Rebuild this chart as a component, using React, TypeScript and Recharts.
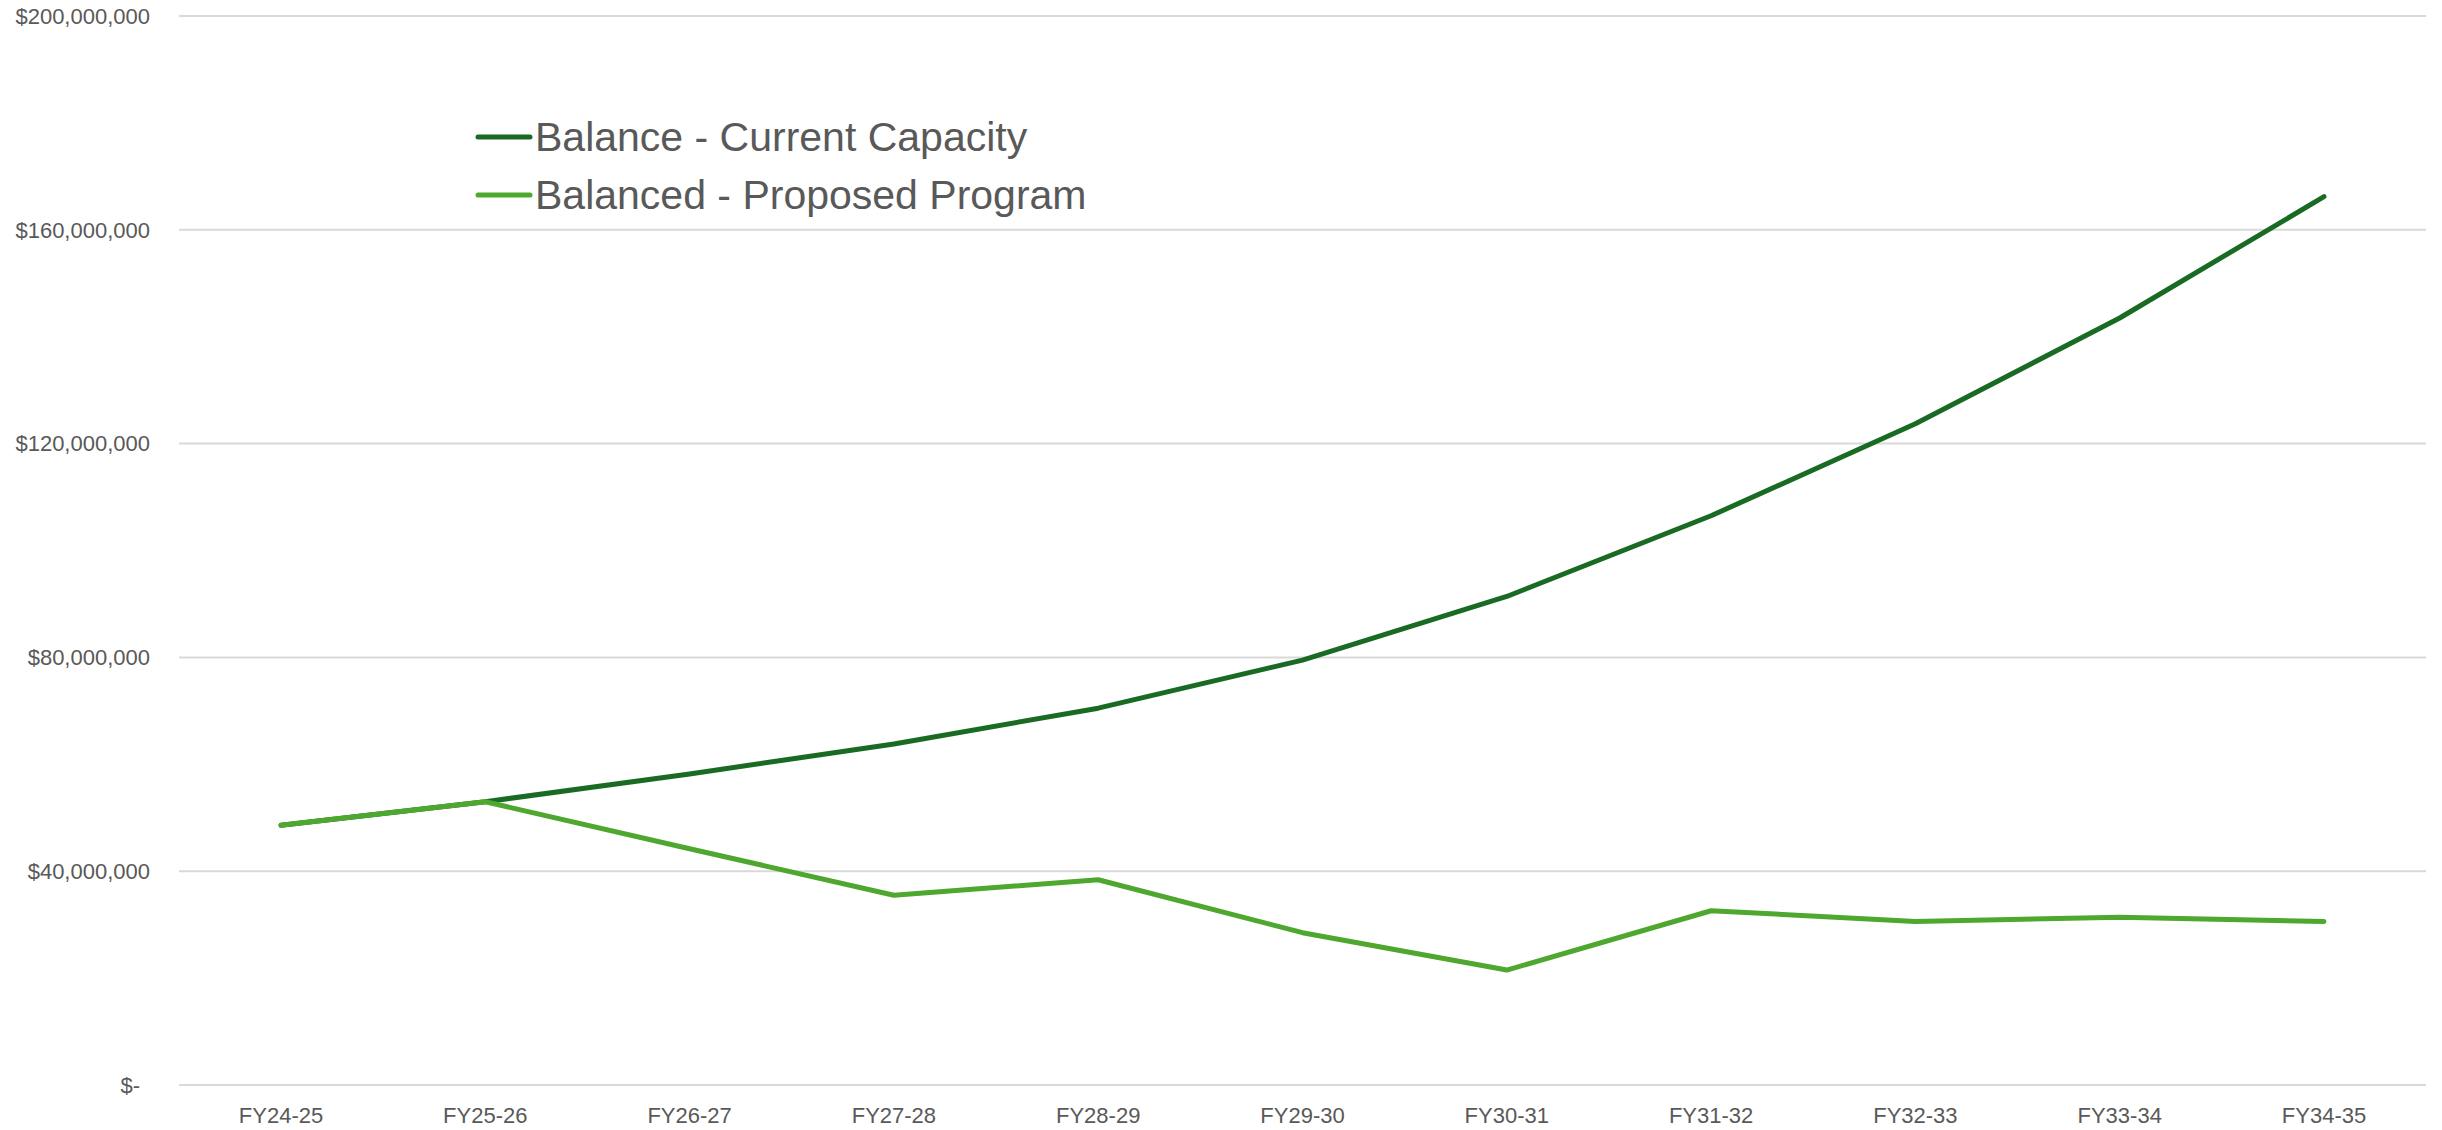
import React from "react"
import { CartesianGrid, Legend, Line, LineChart, XAxis, YAxis } from "recharts"

// values
const years = ["FY24-25", "FY25-26", "FY26-27", "FY27-28", "FY28-29", "FY29-30", "FY30-31", "FY31-32", "FY32-33", "FY33-34", "FY34-35"]
const currentCapacity = [48.6, 53.0, 58.2, 63.8, 70.5, 79.5, 91.4, 106.5, 123.7, 143.5, 166.2].map((v) => v * 1e6)
const proposedProgram = [48.6, 53.0, 44.2, 35.5, 38.4, 28.5, 21.5, 32.6, 30.6, 31.4, 30.6].map((v) => v * 1e6)
const yTicks = [0, 40e6, 80e6, 120e6, 160e6, 200e6]

const seriesNames = ["Balance - Current Capacity", "Balanced - Proposed Program"]
const seriesColors = ["#196B24", "#4EA72E"]

const data = years.map((year, i) => ({
  year,
  current: currentCapacity[i],
  proposed: proposedProgram[i],
}))

const FONT = "'Liberation Sans', Arial, sans-serif"
const TEXT = "#595959"

const fmtMoney = (v: number) => (v === 0 ? "$-" : "$" + v.toLocaleString("en-US"))

function YTick(props: any) {
  const { x, y, payload } = props
  const isZero = payload.value === 0
  return (
    <text
      x={isZero ? x - 10 : x}
      y={y}
      dy="0.35em"
      textAnchor="end"
      fontSize={22}
      fontFamily={FONT}
      fill={TEXT}
    >
      {fmtMoney(payload.value)}
    </text>
  )
}

function LegendBox() {
  return (
    <div style={{ fontFamily: FONT, color: TEXT, fontSize: 41, lineHeight: "58px" }}>
      {seriesNames.map((name, i) => (
        <div key={name} style={{ display: "flex", alignItems: "center", whiteSpace: "nowrap" }}>
          <svg width={60} height={10}>
            <line x1={3} y1={5} x2={55} y2={5} stroke={seriesColors[i]} strokeWidth={5} strokeLinecap="round" />
          </svg>
          <span>{name}</span>
        </div>
      ))}
    </div>
  )
}

export default function App() {
  return (
    <div style={{ position: "absolute", left: 0, top: 0, background: "#fff" }}>
      <LineChart width={2442} height={1130} data={data} margin={{ top: 16, right: 16, bottom: 0, left: 0 }}>
        <CartesianGrid vertical={false} stroke="#D9D9D9" strokeWidth={2} />
        <XAxis
          dataKey="year"
          axisLine={false}
          tickLine={false}
          tickSize={0}
          tickMargin={22}
          height={45}
          interval={0}
          padding={{ left: 102, right: 102 }}
          tick={{ fontSize: 22, fontFamily: FONT, fill: TEXT }}
        />
        <YAxis
          domain={[0, 200e6]}
          ticks={yTicks}
          axisLine={false}
          tickLine={false}
          tickSize={0}
          tickMargin={29}
          width={179}
          tick={<YTick />}
        />
        <Legend
          content={<LegendBox />}
          layout="vertical"
          verticalAlign="middle"
          align="center"
          wrapperStyle={{ left: 475, top: 108, width: "auto" }}
        />
        <Line
          type="linear"
          dataKey="current"
          name={seriesNames[0]}
          stroke={seriesColors[0]}
          strokeWidth={5}
          strokeLinecap="round"
          strokeLinejoin="round"
          dot={false}
          activeDot={false}
          isAnimationActive={false}
        />
        <Line
          type="linear"
          dataKey="proposed"
          name={seriesNames[1]}
          stroke={seriesColors[1]}
          strokeWidth={5}
          strokeLinecap="round"
          strokeLinejoin="round"
          dot={false}
          activeDot={false}
          isAnimationActive={false}
        />
      </LineChart>
    </div>
  )
}
